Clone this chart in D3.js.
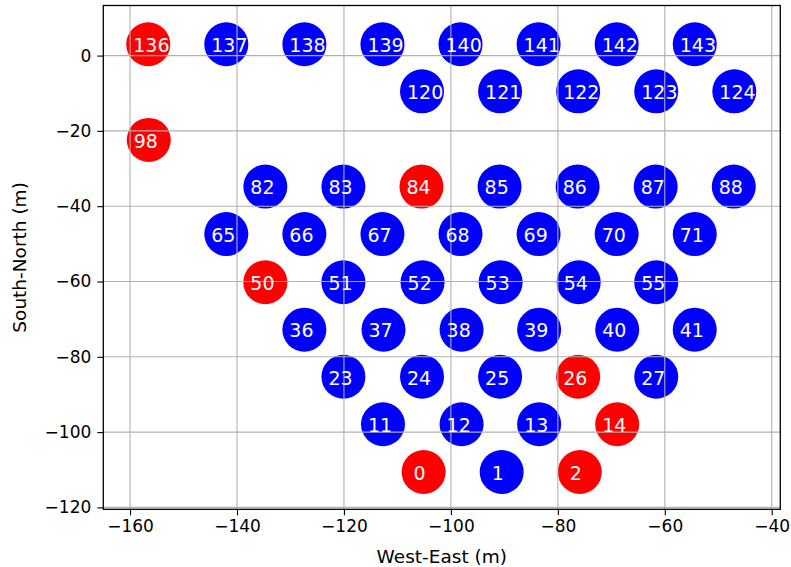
<!DOCTYPE html>
<html>
<head>
<meta charset="utf-8">
<script src="https://cdn.jsdelivr.net/npm/d3@7"></script>
<style>
  body { margin: 0; background: #fff; }
  svg text { font-family: "DejaVu Sans", sans-serif; }
</style>
</head>
<body>
<script>
// station ids and positions (m)
var stationIds = [
  136, 137, 138, 139, 140, 141, 142, 143,
  120, 121, 122, 123, 124,
  98,
  82, 83, 84, 85, 86, 87, 88,
  65, 66, 67, 68, 69, 70, 71,
  50, 51, 52, 53, 54, 55,
  36, 37, 38, 39, 40, 41,
  23, 24, 25, 26, 27,
  11, 12, 13, 14,
  0, 1, 2
];
var westEast = [
  -156.6, -142.0, -127.4, -112.8, -98.2, -83.6, -69.0, -54.4,
  -105.4, -90.8, -76.2, -61.6, -47.0,
  -156.5,
  -134.7, -120.1, -105.5, -90.9, -76.3, -61.7, -47.1,
  -142.0, -127.4, -112.8, -98.2, -83.6, -69.0, -54.4,
  -134.7, -120.1, -105.3, -90.7, -76.1, -61.6,
  -127.4, -112.6, -98.0, -83.5, -68.9, -54.4,
  -120.1, -105.4, -90.8, -76.2, -61.6,
  -112.7, -98.0, -83.5, -68.9,
  -105.1, -90.5, -75.9
];
var southNorth = [
  3.0, 3.0, 3.0, 3.0, 3.0, 3.0, 3.0, 3.0,
  -9.5, -9.5, -9.5, -9.5, -9.5,
  -22.4,
  -34.8, -34.8, -34.8, -34.8, -34.8, -34.8, -34.8,
  -47.4, -47.4, -47.4, -47.4, -47.4, -47.4, -47.4,
  -60.2, -60.2, -60.2, -60.2, -60.2, -60.2,
  -72.8, -72.8, -72.8, -72.8, -72.8, -72.8,
  -85.3, -85.3, -85.3, -85.3, -85.3,
  -97.9, -97.9, -97.9, -97.9,
  -110.6, -110.6, -110.6
];
// stations drawn in red
var redIds = [136, 98, 84, 50, 26, 14, 0, 2];

var xTicks = [-160, -140, -120, -100, -80, -60, -40];
var yTicks = [-120, -100, -80, -60, -40, -20, 0];

var width = 791, height = 567;
var plot = {left: 103.3, right: 780.3, top: 5.5, bottom: 509.3};

var stations = stationIds.map(function(id, i){
  return {id: id, x: westEast[i], y: southNorth[i], red: redIds.includes(id)};
});

var svg = d3.select("body").append("svg")
  .attr("width", width)
  .attr("height", height);

var x = d3.scaleLinear()
  .domain([-165, -38.4])
  .range([plot.left, plot.right]);

var y = d3.scaleLinear()
  .domain([-120.5, 13.3])
  .range([plot.bottom, plot.top]);

function fmt(d){
  return d < 0 ? "\u2212" + Math.abs(d) : "" + d;
}

// circles
svg.append("g").selectAll("circle")
  .data(stations)
  .enter()
  .append("circle")
  .attr("cx", d => x(d.x))
  .attr("cy", d => y(d.y))
  .attr("r", 22)
  .attr("fill", d => d.red ? "#ff0000" : "#0000ff");

// grid (drawn over the markers, like the original)
var grid = svg.append("g").attr("stroke", "#b0b0b0").attr("stroke-width", 1.1);
grid.selectAll("line.gx")
  .data(xTicks)
  .enter().append("line")
  .attr("class", "gx")
  .attr("x1", d => x(d)).attr("x2", d => x(d))
  .attr("y1", plot.top).attr("y2", plot.bottom);
grid.selectAll("line.gy")
  .data(yTicks)
  .enter().append("line")
  .attr("class", "gy")
  .attr("y1", d => y(d)).attr("y2", d => y(d))
  .attr("x1", plot.left).attr("x2", plot.right);

// station labels
svg.append("g").selectAll("text")
  .data(stations)
  .enter()
  .append("text")
  .attr("x", d => x(d.x) - (String(d.id).length > 1 ? 15 : 10))
  .attr("y", d => y(d.y) + 7.8)
  .attr("fill", "#fff")
  .attr("font-size", "19px")
  .text(d => d.id);

// axes
var xAxis = d3.axisBottom(x)
  .tickValues(xTicks)
  .tickFormat(fmt)
  .tickSizeOuter(0)
  .tickSize(6)
  .tickPadding(5);

var yAxis = d3.axisLeft(y)
  .tickValues(yTicks)
  .tickFormat(fmt)
  .tickSizeOuter(0)
  .tickSize(6)
  .tickPadding(6);

var xg = svg.append("g")
  .attr("transform", "translate(0," + plot.bottom + ")")
  .call(xAxis);
xg.select(".domain").remove();
xg.selectAll("text").attr("font-size", "17px").attr("fill", "#000").attr("font-family", "DejaVu Sans");
xg.selectAll("line").attr("stroke", "#000").attr("stroke-width", 1.1);

var yg = svg.append("g")
  .attr("transform", "translate(" + plot.left + ",0)")
  .call(yAxis);
yg.select(".domain").remove();
yg.selectAll("text").attr("font-size", "17px").attr("fill", "#000").attr("font-family", "DejaVu Sans");
yg.selectAll("line").attr("stroke", "#000").attr("stroke-width", 1.1);

// frame
svg.append("rect")
  .attr("x", plot.left).attr("y", plot.top)
  .attr("width", plot.right - plot.left)
  .attr("height", plot.bottom - plot.top)
  .attr("fill", "none")
  .attr("stroke", "#000")
  .attr("stroke-width", 1.3);

// axis titles
svg.append("text")
  .attr("x", (plot.left + plot.right) / 2)
  .attr("y", 563)
  .attr("text-anchor", "middle")
  .attr("font-size", "18.5px")
  .text("West-East (m)");

svg.append("text")
  .attr("transform", "translate(" + 26 + "," + (plot.top + plot.bottom) / 2 + ")rotate(-90)")
  .attr("text-anchor", "middle")
  .attr("font-size", "18.5px")
  .text("South-North (m)");
</script>
</body>
</html>
